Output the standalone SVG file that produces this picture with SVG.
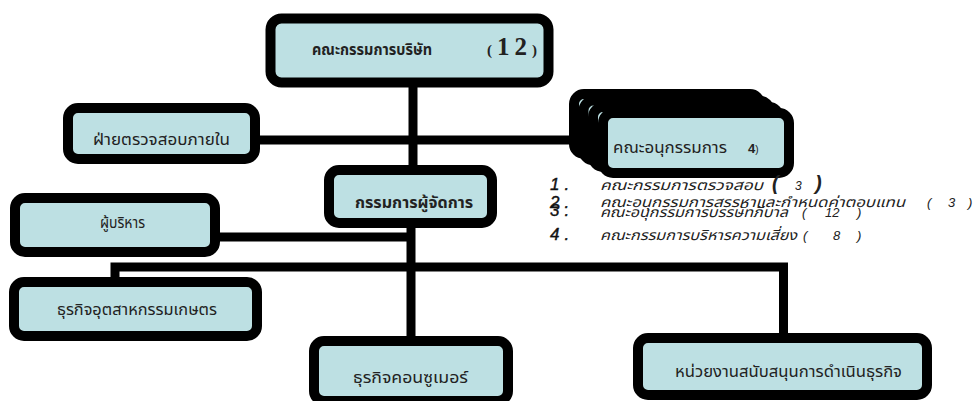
<svg xmlns="http://www.w3.org/2000/svg" width="977" height="401" viewBox="0 0 977 401">
<style>
.box{fill:#bde0e3;stroke:#000;stroke-width:10}
.ln{fill:none;stroke:#000;stroke-width:9;stroke-linejoin:miter}
.t{font-family:"Noto Sans Thai","Noto Sans","DejaVu Sans",sans-serif;fill:#222;font-size:15px}
.b{font-weight:bold}
.it{font-style:italic;font-size:14px}
.num{font-family:"Liberation Sans",Arial,sans-serif;font-style:italic;font-size:17px;letter-spacing:5px;fill:#111;stroke:#111;stroke-width:0.4}
.par{font-family:"Liberation Sans",Arial,sans-serif;font-style:italic;font-size:13px;fill:#222}
</style>
<rect width="977" height="401" fill="#fff"/>
<g id="connectors">
<line class="ln" x1="413" y1="85" x2="413" y2="168"/>
<line class="ln" x1="258" y1="140" x2="600" y2="140"/>
<line class="ln" x1="218" y1="237" x2="413" y2="237"/>
<line class="ln" x1="411" y1="226" x2="411" y2="338"/>
<path class="ln" d="M115 280 V267 H783.5 V336"/>
</g>
<g id="board">
<rect class="box" x="270.5" y="18.5" width="278" height="64" rx="11"/>
<text class="t b" x="312" y="55" textLength="120" lengthAdjust="spacingAndGlyphs">คณะกรรมการบริษัท</text>
<text x="487" y="55" font-family="Liberation Serif,serif" font-weight="bold" fill="#222"><tspan font-size="15">(</tspan><tspan x="497" font-size="25" letter-spacing="5">12</tspan><tspan x="532" font-size="15">)</tspan></text>
</g>
<g id="audit">
<rect class="box" x="68" y="108" width="187" height="51" rx="10"/>
<text class="t" x="93" y="145" font-size="16" textLength="137" lengthAdjust="spacingAndGlyphs">ฝ่ายตรวจสอบภายใน</text>
</g>
<g id="subcommittees">
<rect class="box" x="574" y="94" width="186" height="60" rx="10"/>
<rect class="box" x="583.5" y="100.5" width="186" height="60" rx="10"/>
<rect class="box" x="593" y="107" width="186" height="60" rx="10"/>
<rect class="box" x="603" y="113" width="186" height="60" rx="10"/>
<text class="t" x="613" y="153" textLength="114" lengthAdjust="spacingAndGlyphs">คณะอนุกรรมการ</text>
<text x="748" y="153" font-family="Liberation Sans,sans-serif" fill="#222"><tspan font-size="13" font-weight="bold">4</tspan><tspan font-size="10">)</tspan></text>
</g>
<g id="md">
<rect class="box" x="329" y="170" width="163" height="53" rx="10"/>
<text class="t b" x="355" y="208" textLength="118" lengthAdjust="spacingAndGlyphs">กรรมการผู้จัดการ</text>
</g>
<g id="executives">
<rect class="box" x="15" y="198" width="200" height="54" rx="10"/>
<text class="t" x="100" y="228" textLength="45" lengthAdjust="spacingAndGlyphs">ผู้บริหาร</text>
</g>
<g id="agro">
<rect class="box" x="14" y="282" width="243" height="54" rx="10"/>
<text class="t" x="57" y="315" textLength="160" lengthAdjust="spacingAndGlyphs">ธุรกิจอุตสาหกรรมเกษตร</text>
</g>
<g id="consumer">
<rect class="box" x="314" y="341" width="194" height="60" rx="10"/>
<text class="t" x="353" y="383" textLength="115" lengthAdjust="spacingAndGlyphs">ธุรกิจคอนซูเมอร์</text>
</g>
<g id="support">
<rect class="box" x="638" y="338" width="289" height="57" rx="10"/>
<text class="t" x="675" y="377" textLength="227" lengthAdjust="spacingAndGlyphs">หน่วยงานสนับสนุนการดำเนินธุรกิจ</text>
</g>
<g id="list">
<text class="num" x="550" y="190">1.</text>
<text class="t it" x="600" y="190" textLength="163" lengthAdjust="spacingAndGlyphs">คณะกรรมการตรวจสอบ</text>
<text class="par" y="190"><tspan x="772" font-size="20" font-weight="bold">(</tspan><tspan x="795" font-size="12">3</tspan><tspan x="815" font-size="20" font-weight="bold">)</tspan></text>
<text class="num" x="550" y="208">2.</text>
<text class="t it" x="600" y="207" textLength="305" lengthAdjust="spacingAndGlyphs">คณะอนุกรรมการสรรหาและกำหนดค่าตอบแทน</text>
<text class="par" y="207"><tspan x="927">(</tspan><tspan x="948">3</tspan><tspan x="968">)</tspan></text>
<text class="num" x="550" y="216">3.</text>
<text class="t it" x="600" y="217" textLength="188" lengthAdjust="spacingAndGlyphs">คณะอนุกรรมการบรรษัทภิบาล</text>
<text class="par" y="217"><tspan x="802">(</tspan><tspan x="825">12</tspan><tspan x="857">)</tspan></text>
<text class="num" x="550" y="240">4.</text>
<text class="t it" x="600" y="240" textLength="197" lengthAdjust="spacingAndGlyphs">คณะกรรมการบริหารความเสี่ยง</text>
<text class="par" y="240"><tspan x="803">(</tspan><tspan x="833">8</tspan><tspan x="857">)</tspan></text>
</g>
</svg>
